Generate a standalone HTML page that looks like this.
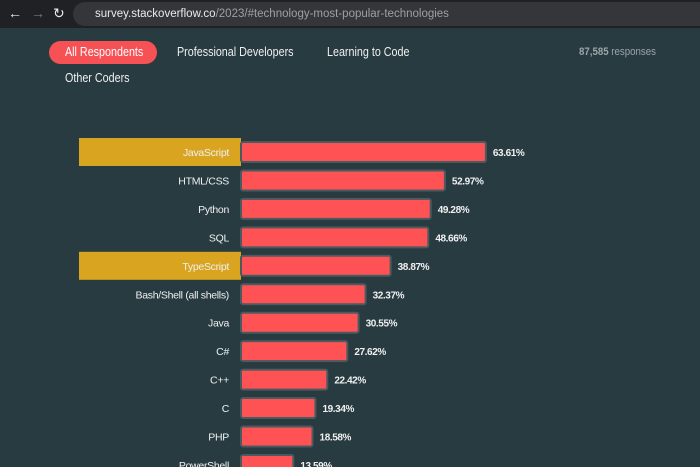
<!DOCTYPE html>
<html><head><meta charset="utf-8"><style>
body{margin:0;width:700px;height:467px;overflow:hidden;background:#283b41;font-family:"Liberation Sans",sans-serif;position:relative}
.top{position:absolute;left:0;top:0;width:700px;height:28px;background:#202124}
.url{position:absolute;left:73px;top:2px;width:640px;height:24px;border-radius:12px;background:#35363a;color:#e8eaed;font-size:11.5px;line-height:24px;padding-left:22px;box-sizing:border-box}
.nav{position:absolute;top:5px;color:#e8eaed;font-size:14px}
.tab{position:absolute;font-size:12.5px;color:#f0f0f0;transform:scaleX(0.86);transform-origin:left center;white-space:nowrap}
</style></head><body>
<div class="top">
<span class="nav" style="left:8px">←</span>
<span class="nav" style="left:31px;color:#777">→</span>
<span class="nav" style="left:53px">↻</span>
<div class="url">survey.stackoverflow.co<span style="color:#9aa0a6">/2023/#technology-most-popular-technologies</span></div>
</div>
<div style="position:absolute;left:49px;top:41px;width:108px;height:23px;border-radius:12px;background:#f65154"><span class="tab" style="left:16px;top:4px;color:#fff">All Respondents</span></div>
<span class="tab" style="left:177px;top:45px">Professional Developers</span>
<span class="tab" style="left:327px;top:45px">Learning to Code</span>
<span class="tab" style="left:65px;top:71px">Other Coders</span>
<span style="position:absolute;left:579px;top:46px;font-size:11px;color:#9aa5a8;transform:scaleX(0.88);transform-origin:left center;white-space:nowrap"><b>87,585</b> responses</span>
<svg id="chart" width="700" height="467" style="position:absolute;left:0;top:0"></svg>
<script>
const categories=["JavaScript","HTML/CSS","Python","SQL","TypeScript","Bash/Shell (all shells)","Java","C#","C++","C","PHP","PowerShell"];
const values=[63.61,52.97,49.28,48.66,38.87,32.37,30.55,27.62,22.42,19.34,18.58,13.59];
const highlighted=["JavaScript","TypeScript"];
const svg=document.getElementById('chart');
const NS='http://www.w3.org/2000/svg';
const x0=241,scale=3.85,y0=152,step=28.45;
const xs=v=>v*scale, ys=i=>y0+i*step;
categories.forEach((c,i)=>{
 const y=ys(i);
 if(highlighted.includes(c)){
  const h=document.createElementNS(NS,'rect');
  h.setAttribute('x',79);h.setAttribute('y',y-14);h.setAttribute('width',162);h.setAttribute('height',28);h.setAttribute('fill','#d9a521');
  
  
  svg.appendChild(h);
 }
 const r=document.createElementNS(NS,'rect');
 r.setAttribute('x',x0);r.setAttribute('y',y-10);r.setAttribute('width',xs(values[i]));r.setAttribute('height',20);
 r.setAttribute('fill','#fe5255');r.setAttribute('stroke','#4a5a5e');r.setAttribute('stroke-width','2');r.setAttribute('rx','2');
 
 
 svg.appendChild(r);
 const t=document.createElementNS(NS,'text');
 t.setAttribute('x',229);t.setAttribute('y',y+4);t.setAttribute('text-anchor','end');t.setAttribute('font-size','10.5');t.setAttribute('letter-spacing','-0.3');t.setAttribute('fill','#f0f0f0');
 t.textContent=c;
 
 
 svg.appendChild(t);
 const v=document.createElementNS(NS,'text');
 v.setAttribute('x',x0+xs(values[i])+7);v.setAttribute('y',y+4);v.setAttribute('font-size','10');v.setAttribute('letter-spacing','-0.4');v.setAttribute('font-weight','bold');v.setAttribute('fill','#f0f0f0');
 v.textContent=values[i].toFixed(2)+'%';
 
 
 svg.appendChild(v);
});
</script>
</body></html>
